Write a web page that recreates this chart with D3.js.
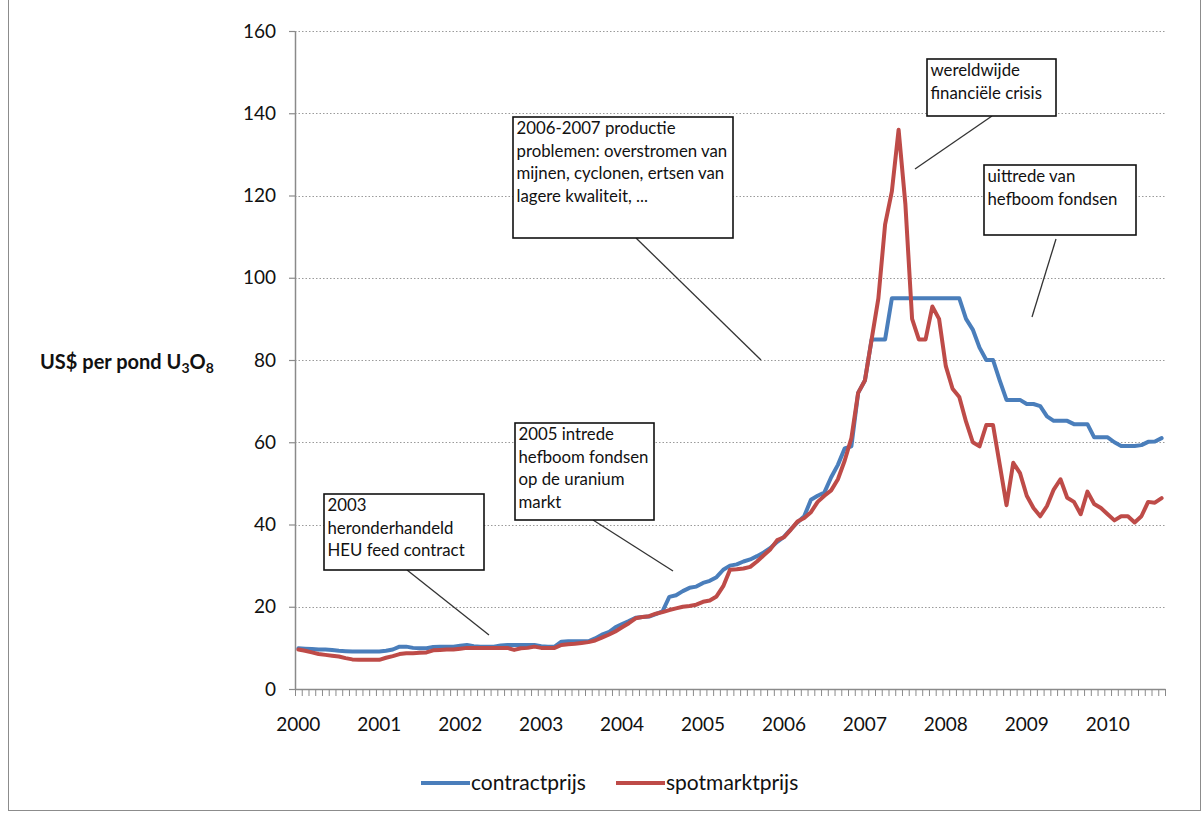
<!DOCTYPE html>
<html>
<head>
<meta charset="utf-8">
<script src="https://cdn.jsdelivr.net/npm/d3@7"></script>
<style>
  html, body { margin: 0; padding: 0; background: #fff; }
  svg { display: block; font-family: Lato, "Open Sans", sans-serif; }
</style>
</head>
<body>
<svg id="chart" width="1203" height="813"></svg>
<script>
// Uranium (U3O8) prices, monthly, January 2000 – September 2010, US$ per pound
const startYear = 2000;
const monthCount = 129;
const categories = d3.range(monthCount).map(i =>
  `${startYear + Math.floor(i / 12)}-${String(i % 12 + 1).padStart(2, "0")}`);

const yearLabels = ["2000", "2001", "2002", "2003", "2004", "2005",
                    "2006", "2007", "2008", "2009", "2010"];
const yTicks = [0, 20, 40, 60, 80, 100, 120, 140, 160];

// long-term contract price
const contractprijs = [
  9.9, 9.8, 9.7, 9.6, 9.6, 9.5, 9.3, 9.2, 9.1, 9.1, 9.1, 9.1,          // 2000
  9.1, 9.3, 9.6, 10.3, 10.3, 10.0, 9.9, 9.9, 10.2, 10.3, 10.3, 10.3,   // 2001
  10.5, 10.7, 10.4, 10.3, 10.3, 10.3, 10.6, 10.7, 10.7, 10.7, 10.7, 10.7, // 2002
  10.4, 10.3, 10.3, 11.5, 11.6, 11.6, 11.6, 11.6, 12.3, 13.2, 13.8, 15.0, // 2003
  15.8, 16.5, 17.3, 17.5, 17.6, 18.2, 18.9, 22.4, 22.8, 23.8, 24.6, 24.9, // 2004
  25.8, 26.3, 27.2, 29.0, 30.0, 30.3, 31.0, 31.5, 32.3, 33.2, 34.3, 35.8, // 2005
  37.0, 38.8, 40.5, 42.0, 46.0, 47.0, 47.8, 51.5, 54.5, 58.5, 59.0, 72.0, // 2006
  75.0, 85.0, 85.0, 85.0, 95.0, 95.0, 95.0, 95.0, 95.0, 95.0, 95.0, 95.0, // 2007
  95.0, 95.0, 95.0, 90.0, 87.4, 83.0, 80.0, 80.0, 75.0, 70.3, 70.3, 70.3, // 2008
  69.3, 69.3, 68.8, 66.3, 65.2, 65.2, 65.2, 64.4, 64.4, 64.4, 61.2, 61.2, // 2009
  61.2, 60.0, 59.1, 59.1, 59.1, 59.3, 60.1, 60.2, 61.0                    // 2010
];

// spot market price
const spotmarktprijs = [
  9.6, 9.3, 8.9, 8.5, 8.3, 8.1, 7.9, 7.5, 7.2, 7.1, 7.1, 7.1,           // 2000
  7.1, 7.6, 8.0, 8.5, 8.7, 8.7, 8.8, 8.9, 9.4, 9.5, 9.6, 9.6,           // 2001
  9.8, 10.0, 10.0, 10.0, 10.0, 10.0, 10.0, 10.0, 9.5, 9.9, 10.0, 10.3,  // 2002
  10.0, 10.0, 10.0, 10.7, 10.9, 11.0, 11.2, 11.4, 11.8, 12.5, 13.2, 14.0, // 2003
  15.0, 16.0, 17.2, 17.5, 17.7, 18.3, 18.7, 19.2, 19.6, 20.0, 20.2, 20.5, // 2004
  21.2, 21.5, 22.5, 25.0, 29.0, 29.1, 29.3, 29.7, 31.0, 32.5, 34.0, 36.2, // 2005
  36.9, 38.7, 40.7, 41.6, 43.0, 45.5, 47.0, 48.3, 51.0, 55.5, 61.0, 72.0, // 2006
  75.0, 85.0, 95.0, 113.0, 121.0, 136.0, 118.0, 90.0, 85.0, 85.0, 93.0, 90.0, // 2007
  78.5, 73.0, 71.0, 65.0, 60.0, 59.0, 64.2, 64.2, 54.5, 44.7, 55.0, 52.5, // 2008
  47.0, 44.0, 42.0, 44.5, 48.5, 51.0, 46.5, 45.5, 42.5, 48.0, 45.0, 44.0, // 2009
  42.5, 41.0, 42.0, 42.0, 40.5, 42.0, 45.5, 45.3, 46.4                    // 2010
];

const seriesNames = ["contractprijs", "spotmarktprijs"];
const seriesColors = ["#4a7ebb", "#be4b48"];
const seriesValues = [contractprijs, spotmarktprijs];

// Callout boxes with leader lines (pixel layout)
const callouts = [
  { lines: ["2006-2007 productie", "problemen: overstromen van",
            "mijnen, cyclonen, ertsen van", "lagere kwaliteit, ..."],
    box: [513, 117, 733, 238], leader: [[636, 238], [761, 360]] },
  { lines: ["wereldwijde", "financiële crisis"],
    box: [927, 59, 1056, 116], leader: [[992, 116], [915, 169]] },
  { lines: ["uittrede van", "hefboom fondsen"],
    box: [984, 165, 1136, 235], leader: [[1056, 239], [1032, 317]] },
  { lines: ["2005 intrede", "hefboom fondsen", "op de uranium", "markt"],
    box: [515, 423, 654, 520], leader: [[593, 520], [673, 571]] },
  { lines: ["2003", "heronderhandeld", "HEU feed contract"],
    box: [324, 494, 484, 570], leader: [[407, 570], [489, 635]] }
];

const svg = d3.select("#chart");
const plot = { left: 295, right: 1165, top: 31, bottom: 689 };

// outer chart frame
svg.append("rect")
  .attr("x", 8.5).attr("y", -2).attr("width", 1192).attr("height", 812.5)
  .attr("fill", "#fff").attr("stroke", "#8c8c8c").attr("stroke-width", 1);

const x = d3.scaleBand()
  .domain(d3.range(categories.length))
  .range([plot.left, plot.right])
  .padding(0);
const cx = i => x(i) + x.bandwidth() / 2;
const xEdge = d3.scaleLinear().domain([0, categories.length]).range([plot.left, plot.right]);
const y = d3.scaleLinear().domain([0, 160]).range([plot.bottom, plot.top]);

// dotted horizontal gridlines
svg.append("g").selectAll("line")
  .data(yTicks.filter(v => v > 0))
  .join("line")
  .attr("x1", plot.left).attr("x2", plot.right)
  .attr("y1", d => Math.round(y(d)) + 0.5).attr("y2", d => Math.round(y(d)) + 0.5)
  .attr("stroke", "#9a9a9a").attr("stroke-width", 1)
  .attr("stroke-dasharray", "1.5,2");

// y axis
const yAxis = svg.append("g")
  .attr("transform", `translate(${plot.left},0)`)
  .call(d3.axisLeft(y).tickValues(yTicks).tickSizeInner(6).tickSizeOuter(0).tickPadding(13));
yAxis.select(".domain").attr("stroke", "#8a8a8a").attr("stroke-width", 1.5);
yAxis.selectAll(".tick line").attr("stroke", "#8a8a8a").attr("stroke-width", 1.2);
yAxis.selectAll(".tick text").attr("font-size", 19).attr("fill", "#111")
  .attr("font-family", "Lato, sans-serif");

// x axis: monthly tick marks
const xAxis = svg.append("g")
  .attr("transform", `translate(0,${plot.bottom})`)
  .call(d3.axisBottom(xEdge).tickValues(d3.range(categories.length + 1))
    .tickFormat("").tickSizeInner(7).tickSizeOuter(0));
xAxis.select(".domain").attr("stroke", "#8a8a8a").attr("stroke-width", 1.5);
xAxis.selectAll(".tick line").attr("stroke", "#8a8a8a").attr("stroke-width", 1);

// year labels under January of each year
svg.append("g").selectAll("text")
  .data(yearLabels)
  .join("text")
  .attr("x", (d, k) => cx(k * 12))
  .attr("y", 731)
  .attr("text-anchor", "middle")
  .attr("font-size", 19).attr("fill", "#111")
  .text(d => d);

// y axis title with subscripts
const title = svg.append("text")
  .attr("x", 40).attr("y", 369)
  .attr("font-size", 20).attr("font-weight", "bold").attr("fill", "#111");
title.append("tspan").text("US$ per pond U");
title.append("tspan").attr("font-size", 14).attr("dy", 4).text("3");
title.append("tspan").attr("dy", -4).text("O");
title.append("tspan").attr("font-size", 14).attr("dy", 4).text("8");

// series lines
const line = d3.line().x((d, i) => cx(i)).y(d => y(d));
svg.append("g").selectAll("path")
  .data(seriesValues)
  .join("path")
  .attr("d", d => line(d))
  .attr("fill", "none")
  .attr("stroke", (d, k) => seriesColors[k])
  .attr("stroke-width", 4)
  .attr("stroke-linejoin", "round")
  .attr("stroke-linecap", "round");

// callouts
const cg = svg.append("g").selectAll("g").data(callouts).join("g");
cg.append("line")
  .attr("x1", d => d.leader[0][0]).attr("y1", d => d.leader[0][1])
  .attr("x2", d => d.leader[1][0]).attr("y2", d => d.leader[1][1])
  .attr("stroke", "#333").attr("stroke-width", 1.3);
cg.append("rect")
  .attr("x", d => d.box[0]).attr("y", d => d.box[1])
  .attr("width", d => d.box[2] - d.box[0]).attr("height", d => d.box[3] - d.box[1])
  .attr("fill", "#fff").attr("stroke", "#111").attr("stroke-width", 1.6);
cg.each(function (d) {
  d3.select(this).selectAll("text")
    .data(d.lines)
    .join("text")
    .attr("x", d.box[0] + 3.5)
    .attr("y", (t, j) => d.box[1] + 11.5 + j * 22.5)
    .attr("dy", "0.35em")
    .attr("font-size", 16.8).attr("fill", "#111")
    .text(t => t);
});

// legend
const legendX = [421, 616];
const lg = svg.append("g").selectAll("g").data(seriesNames).join("g")
  .attr("transform", (d, k) => `translate(${legendX[k]},783)`);
lg.append("line").attr("x1", 0).attr("x2", 49).attr("y1", 0).attr("y2", 0)
  .attr("stroke", (d, k) => seriesColors[k]).attr("stroke-width", 4);
lg.append("text").attr("x", 50).attr("y", 0).attr("dy", "0.35em")
  .attr("font-size", 21).attr("fill", "#111").text(d => d);
</script>
</body>
</html>
